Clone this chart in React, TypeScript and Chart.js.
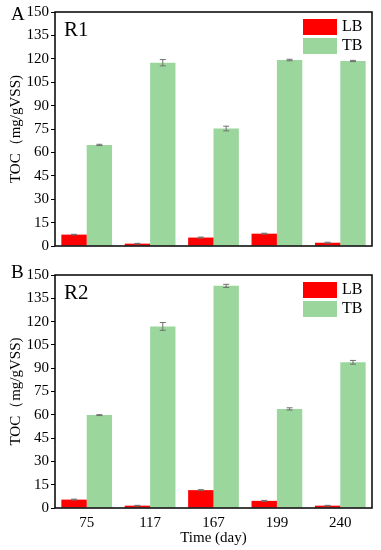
import React, { useEffect, useRef } from "react";
import { Chart, registerables } from "chart.js";
Chart.register(...registerables);

const days = ["75", "117", "167", "199", "240"];
const seriesNames = ["LB", "TB"];
const r1LB = [7.3, 1.5, 5.4, 7.9, 2.1];
const r1LBErr = [0.2, 0.2, 0.3, 0.3, 0.3];
const r1TB = [64.8, 117.5, 75.3, 119.2, 118.6];
const r1TBErr = [0.4, 2.0, 1.5, 0.5, 0.4];
const r2LB = [5.4, 1.5, 11.5, 4.6, 1.5];
const r2LBErr = [0.3, 0.2, 0.3, 0.3, 0.2];
const r2TB = [59.8, 116.9, 143.0, 63.8, 93.8];
const r2TBErr = [0.3, 2.5, 1.0, 0.7, 1.2];
const yMax = 150;
const yStep = 15;

const RED = "#FF0000";
const GREEN = "#9BD69D";
const FONT = "'Liberation Serif', 'Times New Roman', serif";

const panelPlugin = {
  id: "panelDeco",
  afterDatasetsDraw(chart: any, _args: any, opts: any) {
    const ctx = chart.ctx;
    const { left, right, top, bottom } = chart.chartArea;
    const y = chart.scales.y;
    // error bars
    ctx.save();
    ctx.strokeStyle = "#6f6f6f";
    ctx.lineWidth = 1;
    chart.data.datasets.forEach((ds: any, di: number) => {
      const meta = chart.getDatasetMeta(di);
      meta.data.forEach((bar: any, i: number) => {
        const v = ds.data[i];
        const e = ds.errors[i];
        const yt = y.getPixelForValue(v + e);
        const yb = y.getPixelForValue(v - e);
        const x = bar.x;
        ctx.beginPath();
        ctx.moveTo(x, yt);
        ctx.lineTo(x, yb);
        ctx.moveTo(x - 3, yt);
        ctx.lineTo(x + 3, yt);
        ctx.moveTo(x - 3, yb);
        ctx.lineTo(x + 3, yb);
        ctx.stroke();
      });
    });
    ctx.restore();
    // frame
    ctx.save();
    ctx.strokeStyle = "#000";
    ctx.lineWidth = 1.5;
    ctx.strokeRect(left, top, right - left, bottom - top);
    ctx.restore();
    // legend
    ctx.save();
    ctx.font = `16px ${FONT}`;
    ctx.textBaseline = "middle";
    ctx.textAlign = "left";
    chart.data.datasets.forEach((ds: any, di: number) => {
      const bx = right - 69;
      const by = top + 7 + di * 19;
      ctx.fillStyle = ds.backgroundColor;
      ctx.fillRect(bx, by, 34, 16);
      ctx.fillStyle = "#000";
      ctx.fillText(ds.label, bx + 39, by + 8);
    });
    // panel labels
    ctx.font = `21px ${FONT}`;
    ctx.textBaseline = "alphabetic";
    ctx.fillText(opts.name, left + 9, top + 24);
    ctx.font = `19px ${FONT}`;
    ctx.fillText(opts.letter, 11, opts.letterY);
    ctx.restore();
  },
};

function Panel({
  lb, lbErr, tb, tbErr, name, letter, letterY, height, showX, padTop, padBottom,
}: any) {
  const ref = useRef<HTMLCanvasElement>(null);
  useEffect(() => {
    const chart = new Chart(ref.current as HTMLCanvasElement, {
      type: "bar",
      data: {
        labels: days,
        datasets: [
          { label: seriesNames[0], data: lb, errors: lbErr, backgroundColor: RED } as any,
          { label: seriesNames[1], data: tb, errors: tbErr, backgroundColor: GREEN } as any,
        ],
      },
      options: {
        animation: false,
        responsive: false,
        devicePixelRatio: 1,
        layout: { padding: { left: 0, right: 9, top: padTop, bottom: padBottom } },
        datasets: { bar: { categoryPercentage: 0.8, barPercentage: 1.0 } },
        plugins: {
          legend: { display: false },
          tooltip: { enabled: false },
          panelDeco: { name, letter, letterY },
        } as any,
        scales: {
          x: {
            grid: { display: false, drawTicks: false },
            border: { display: false },
            ticks: { display: showX, color: "#000", padding: 6, font: { family: FONT, size: 15 } },
            title: {
              display: showX,
              text: "Time (day)",
              color: "#000",
              font: { family: FONT, size: 15 },
              padding: { top: 0, bottom: 3 },
            },
            afterFit: (s: any) => { s.height = showX ? 42 : 0; },
          },
          y: {
            min: 0,
            max: yMax,
            grid: { drawOnChartArea: false, drawTicks: true, tickLength: 4, color: "#000" },
            border: { display: false },
            ticks: { stepSize: yStep, color: "#000", padding: 2, font: { family: FONT, size: 15 } },
            title: {
              display: true,
              text: "TOC（mg/gVSS)",
              color: "#000",
              font: { family: FONT, size: 15 },
              padding: { top: 7, bottom: 0 },
            },
            afterFit: (s: any) => { s.width = 55; },
          },
        },
      },
      plugins: [panelPlugin],
    });
    return () => chart.destroy();
  }, []);
  return <canvas ref={ref} width={381} height={height} style={{ display: "block" }} />;
}

export default function App() {
  return (
    <div style={{ position: "absolute", left: 0, top: 0, width: 381, height: 550, background: "#fff" }}>
      <Panel lb={r1LB} lbErr={r1LBErr} tb={r1TB} tbErr={r1TBErr} name="R1" letter="A" letterY={20}
        height={262} showX={false} padTop={12} padBottom={16} />
      <Panel lb={r2LB} lbErr={r2LBErr} tb={r2TB} tbErr={r2TBErr} name="R2" letter="B" letterY={16}
        height={288} showX={true} padTop={13} padBottom={0} />
    </div>
  );
}
